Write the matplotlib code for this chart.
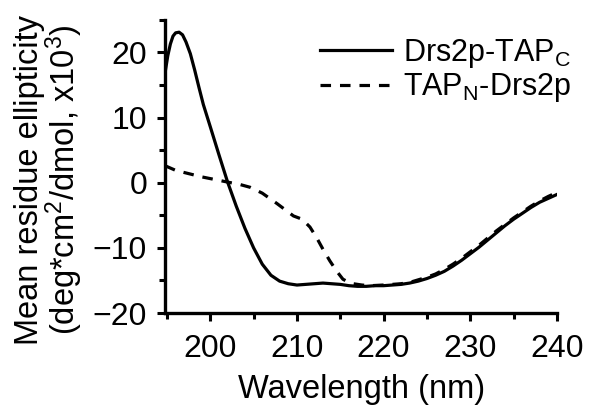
import matplotlib
matplotlib.use('Agg')
import matplotlib.pyplot as plt
from matplotlib.ticker import MultipleLocator

plt.rcParams['font.family'] = ['Liberation Sans', 'DejaVu Sans']
plt.rcParams['mathtext.fontset'] = 'custom'
plt.rcParams['mathtext.rm'] = 'Liberation Sans'
plt.rcParams['mathtext.it'] = 'Liberation Sans'

# Drs2p-TAP_C (solid)
wl_c = [194.8, 195.1, 195.4, 195.7, 196.0, 196.4, 196.8, 197.2, 197.7, 198.2,
        198.7, 199.2, 200.0, 201.0, 202.0, 203.0, 204.0, 205.0, 206.0, 207.0,
        208.0, 209.0, 210.0, 211.0, 212.0, 213.0, 214.0, 215.0, 216.0, 217.0,
        218.0, 219.0, 220.0, 221.0, 222.0, 223.0, 224.0, 225.0, 226.0, 227.0,
        228.0, 229.0, 230.0, 231.0, 232.0, 233.0, 234.0, 235.0, 236.0, 237.0,
        238.0, 239.0, 240.0]
mre_c = [17.0, 19.5, 21.3, 22.5, 23.0, 23.1, 22.7, 21.6, 19.8, 17.3,
         14.6, 12.0, 8.6, 4.3, 0.1, -3.6, -7.0, -10.0, -12.5, -14.2,
         -15.1, -15.5, -15.7, -15.6, -15.5, -15.4, -15.5, -15.6, -15.8, -15.9,
         -15.9, -15.8, -15.8, -15.7, -15.6, -15.4, -15.1, -14.7, -14.2, -13.6,
         -12.8, -11.9, -10.9, -9.9, -8.8, -7.7, -6.6, -5.6, -4.7, -3.8,
         -3.0, -2.4, -1.8]

# TAP_N-Drs2p (dashed)
wl_n = [194.8, 196.0, 197.5, 199.0, 200.5, 202.0, 203.5, 204.6, 206.0, 207.7,
        209.0, 209.6, 210.6, 211.5, 212.3, 213.0, 213.8, 214.6, 215.3, 216.0,
        216.5, 217.5, 218.5, 220.0, 221.0, 222.0, 223.0, 224.0, 225.0, 226.0,
        227.0, 228.0, 229.0, 230.0, 231.0, 232.0, 233.0, 234.0, 235.0, 236.0,
        237.0, 238.0, 239.0, 240.0]
mre_n = [2.6, 1.9, 1.4, 0.9, 0.5, 0.1, -0.3, -0.7, -1.6, -3.2,
         -4.5, -5.1, -5.6, -6.8, -8.5, -10.2, -12.0, -13.6, -14.8, -15.3,
         -15.5, -15.7, -15.8, -15.7, -15.6, -15.5, -15.3, -14.9, -14.5, -14.0,
         -13.3, -12.5, -11.6, -10.6, -9.6, -8.5, -7.4, -6.4, -5.4, -4.5,
         -3.6, -2.8, -2.1, -1.5]

fig = plt.figure(figsize=(5.9, 4.13), dpi=100)
ax = fig.add_axes([0.28, 0.242, 0.664, 0.71])

ax.plot(wl_c, mre_c, color='black', lw=2.3, label='Drs2p-TAP$_\\mathrm{C}$')
ax.plot(wl_n, mre_n, color='black', lw=2.3, linestyle=(0, (3.3, 2.8)),
        label='TAP$_\\mathrm{N}$-Drs2p')

ax.set_xlim(194.8, 240)
ax.set_ylim(-20, 25)
ax.xaxis.set_major_locator(MultipleLocator(10))
ax.xaxis.set_minor_locator(MultipleLocator(5))
ax.yaxis.set_major_locator(MultipleLocator(10))
ax.yaxis.set_minor_locator(MultipleLocator(5))

for side in ['top', 'right']:
    ax.spines[side].set_visible(False)
for side in ['left', 'bottom']:
    ax.spines[side].set_linewidth(2.4)

ax.tick_params(which='major', direction='out', length=6, width=2.2, labelsize=23)
ax.tick_params(axis='x', which='major', pad=9)
ax.tick_params(axis='y', which='major', pad=7)
ax.tick_params(which='minor', direction='out', length=4, width=2.2)

ax.set_xlabel('Wavelength (nm)', fontsize=23.5, labelpad=7)
ax.set_ylabel('Mean residue ellipticity\n(deg*cm$^2$/dmol, x10$^3$)',
              fontsize=23.5, linespacing=0.95)
ax.yaxis.set_label_coords(-0.205, 0.455)

ax.legend(loc='upper right', bbox_to_anchor=(1.09, 1.015), frameon=False,
          fontsize=22, handlelength=2.35, handletextpad=0.35, labelspacing=0.05,
          borderaxespad=0.3)

plt.savefig('out.png', dpi=100)
plt.close()
